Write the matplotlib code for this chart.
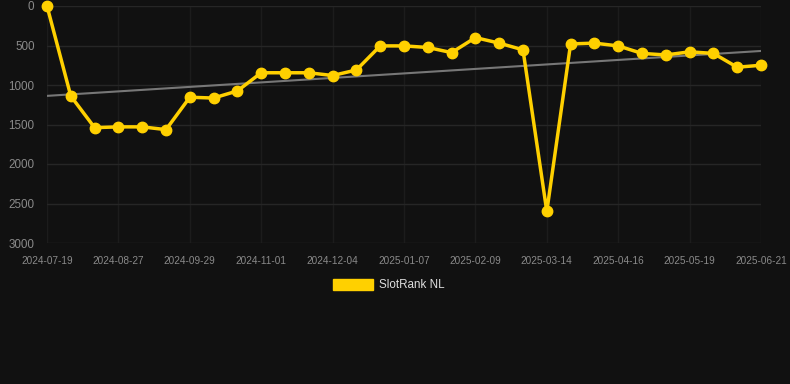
import matplotlib.pyplot as plt
import numpy as np

DPI = 100

# Данные графика
tick_labels = ["2024-07-19", "2024-08-27", "2024-09-29", "2024-11-01",
               "2024-12-04", "2025-01-07", "2025-02-09", "2025-03-14",
               "2025-04-16", "2025-05-19", "2025-06-21"]
ranks = [0, 1140, 1540, 1530, 1530, 1565, 1155, 1165, 1075, 845,
         845, 845, 880, 810, 505, 505, 525, 590, 400, 470,
         555, 2600, 480, 470, 505, 600, 620, 580, 600, 775, 750]
series_name = "SlotRank NL"

BG = "#111111"
GOLD = "#ffd000"

fig = plt.figure(figsize=(790/DPI, 384/DPI), dpi=DPI, facecolor=BG)
ax = fig.add_axes([47/790, 1 - 243/384, 714/790, 237/384], facecolor=BG)

x = np.arange(len(ranks))
y = np.array(ranks)

# Линия тренда
k, b = np.polyfit(x, y, 1)
ax.plot(x, k * x + b, color="#777777", lw=1.5, zorder=2)

ax.plot(x, y, color=GOLD, lw=2.5, marker="o", markersize=7.5,
        zorder=3, clip_on=False)

ax.set_xlim(0, len(ranks) - 1)
ax.set_ylim(3000, 0)
ax.set_yticks([0, 500, 1000, 1500, 2000, 2500, 3000])
ax.set_xticks(x[::3])
ax.set_xticklabels(tick_labels)

ax.grid(True, axis="y", color="#262626", lw=1)
ax.grid(True, axis="x", color="#1c1c1c", lw=1)
for s in ax.spines.values():
    s.set_visible(False)
ax.tick_params(axis="y", length=0, pad=9, labelsize=8.4, labelcolor="#8a8a8a")
ax.tick_params(axis="x", length=0, pad=9, labelsize=7.2, labelcolor="#8a8a8a")
for lbl in ax.get_xticklabels() + ax.get_yticklabels():
    lbl.set_fontfamily("Liberation Sans")

# Легенда
fig.patches.append(plt.Rectangle((333/790, 1 - 290/384), 40/790, 11/384,
                                 transform=fig.transFigure, color=GOLD))
fig.text(379/790, 1 - 284.5/384, series_name, color="#dddddd", fontsize=8.4,
         family="Liberation Sans", va="center", ha="left")

plt.savefig("out.png", dpi=DPI, facecolor=BG)
plt.close()
